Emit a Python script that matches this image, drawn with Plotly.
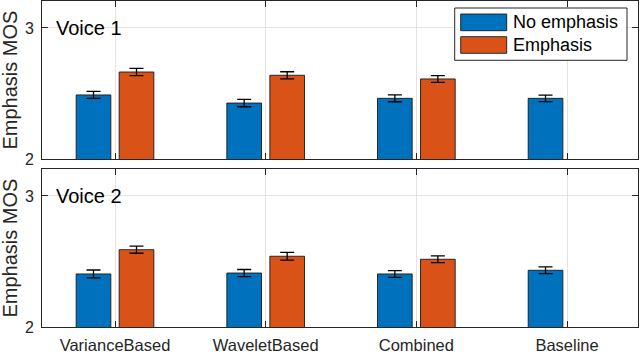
import plotly.graph_objects as go

# ---------------- data ----------------
categories = ["VarianceBased", "WaveletBased", "Combined", "Baseline"]
series_names = ["No emphasis", "Emphasis"]

voice1_no_emph = [2.489, 2.427, 2.463, 2.463]
voice1_emph = [2.664, 2.639, 2.611, None]
voice1_no_emph_err = [0.027, 0.028, 0.026, 0.025]
voice1_emph_err = [0.028, 0.027, 0.026, None]

voice2_no_emph = [2.405, 2.412, 2.405, 2.433]
voice2_emph = [2.590, 2.540, 2.517, None]
voice2_no_emph_err = [0.030, 0.027, 0.026, 0.026]
voice2_emph_err = [0.027, 0.030, 0.026, None]

panel_titles = ["Voice 1", "Voice 2"]
y_ticks = [2, 3]
y_label = "Emphasis MOS"

# ---------------- style ----------------
BLUE = "#0072BD"
ORANGE = "#D95319"
AX = "#262626"
GRID = "#e3e3e3"
FONT = "Liberation Sans, Arial, Helvetica, sans-serif"

WIDTH, HEIGHT = 640, 354
L, R, T, B = 42, 2, 1, 27
PW, PH = WIDTH - L - R, HEIGHT - T - B


def px(x):
    return (x - L) / PW


def py(y):
    return (HEIGHT - B - y) / PH


fig = go.Figure()

panels = [
    (voice1_no_emph, voice1_no_emph_err, voice1_emph, voice1_emph_err, "x", "y"),
    (voice2_no_emph, voice2_no_emph_err, voice2_emph, voice2_emph_err, "x2", "y2"),
]

for i, (ne, nee, em, eme, xa, ya) in enumerate(panels):
    for vals, errs, color, name in [(ne, nee, BLUE, series_names[0]), (em, eme, ORANGE, series_names[1])]:
        fig.add_trace(go.Bar(
            x=categories, y=vals, name=name, xaxis=xa, yaxis=ya,
            marker=dict(color=color, line=dict(color="#1a1a1a", width=0.9)),
            error_y=dict(type="data", array=[e if e is not None else 0 for e in errs],
                         visible=True, color="black", thickness=1.3, width=7),
            showlegend=False, hoverinfo="skip",
        ))

xr = [-0.4845, 3.471]
axis_common = dict(
    showline=True, linecolor=AX, linewidth=1, mirror="ticks",
    ticks="inside", ticklen=6, tickcolor=AX, tickwidth=1,
    showgrid=True, gridcolor=GRID, gridwidth=1, zeroline=False,
    tickfont=dict(family=FONT, size=16, color=AX), automargin=False,
)

top_dom = [py(159), py(1)]
bot_dom = [py(327), py(169)]

fig.update_layout(
    width=WIDTH, height=HEIGHT,
    margin=dict(l=L, r=R, t=T, b=B),
    paper_bgcolor="white", plot_bgcolor="white",
    barmode="group", bargap=0.429, bargroupgap=0.194,
    showlegend=False,
    font=dict(family=FONT, color=AX),
    xaxis=dict(axis_common, domain=[0, 1], anchor="y", range=xr,
               type="category", categoryorder="array", categoryarray=categories,
               tickvals=categories, showticklabels=False),
    yaxis=dict(axis_common, domain=top_dom, anchor="x", range=[2, 3.206],
               tickvals=y_ticks, ticklabelstandoff=4),
    xaxis2=dict(axis_common, domain=[0, 1], anchor="y2", range=xr,
                type="category", categoryorder="array", categoryarray=categories,
                tickvals=categories, tickfont=dict(family=FONT, size=16.5, color=AX),
                ticklabelstandoff=3),
    yaxis2=dict(axis_common, domain=bot_dom, anchor="x2", range=[2, 3.206],
                tickvals=y_ticks, ticklabelstandoff=4),
)

annotations = []
# panel labels
for title, ya in zip(panel_titles, ["y", "y2"]):
    annotations.append(dict(text=title, xref="paper", yref=ya, x=px(54), y=3,
                            xanchor="left", yanchor="middle", showarrow=False,
                            font=dict(family=FONT, size=20, color="black")))
# y-axis titles
for dom in [top_dom, bot_dom]:
    annotations.append(dict(text=y_label, xref="paper", yref="paper",
                            x=px(9.5), y=(dom[0] + dom[1]) / 2, textangle=-90,
                            xanchor="center", yanchor="middle", showarrow=False,
                            font=dict(family=FONT, size=20, color=AX)))

# custom legend (MATLAB style)
shapes = [
    dict(type="rect", xref="paper", yref="paper", x0=px(454.7), x1=px(627),
         y0=py(60.3), y1=py(8), line=dict(color=AX, width=1), fillcolor="white", layer="above"),
]
for (y0, y1), color, name in zip([(14, 30.7), (36.7, 53.3)], [BLUE, ORANGE], series_names):
    shapes.append(dict(type="rect", xref="paper", yref="paper", x0=px(460.7), x1=px(506.7),
                       y0=py(y1), y1=py(y0), line=dict(color="#1a1a1a", width=0.9),
                       fillcolor=color, layer="above"))
    annotations.append(dict(text=name, xref="paper", yref="paper", x=px(511),
                            y=py((y0 + y1) / 2), xanchor="left", yanchor="middle",
                            showarrow=False, font=dict(family=FONT, size=18, color="black")))

fig.update_layout(annotations=annotations, shapes=shapes)

fig.write_html("out.html", config={"displayModeBar": False},
               post_script="document.body.style.margin='0';document.body.style.overflow='hidden';")
